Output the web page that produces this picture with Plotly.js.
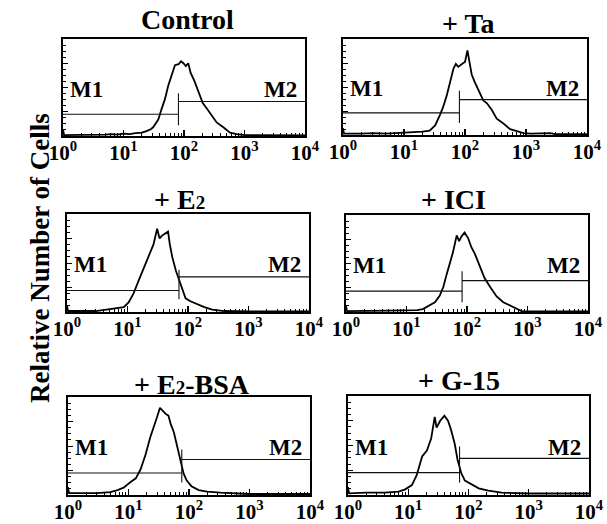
<!DOCTYPE html>
<html>
<head>
<meta charset="utf-8">
<script src="https://cdn.plot.ly/plotly-3.0.1.min.js"></script>
<style>html,body{margin:0;padding:0;background:#fff;}#chart{width:607px;height:524px;}</style>
</head>
<body>
<div id="chart"></div>
<script>
// ---- Data ----
const panelTitles = ['Control', '+ Ta', '+ E<span style="font-size:19px">2</span>', '+ ICI', '+ E<span style="font-size:19px">2</span>-BSA', '+ G-15'];
const tickValues = [1, 10, 100, 1000, 10000];
const tickLabels = ['10<sup>0</sup>', '10<sup>1</sup>', '10<sup>2</sup>', '10<sup>3</sup>', '10<sup>4</sup>'];

// fluorescence intensity (x) and relative number of cells (y, % of axis)
const controlX = [1, 1.04, 2.0, 3.16, 5.0, 6.3, 7.9, 10, 12.6, 15.8, 20, 24, 28.2, 30.9, 34.7, 37.6, 42.7, 48.4, 55.0, 63.1, 70.8, 81.3, 89.1, 97.7, 107.2, 117.5, 128.8, 147.9, 173.8, 204.2, 239.9, 288.4, 346.7, 446.7, 575.4, 741.3, 1000, 1995, 3981, 10000];
const controlY = [7, 1, 1.2, 1, 1.5, 2, 1.5, 2.5, 2, 3, 3.5, 5, 7, 9, 13, 17, 28, 38, 52, 64, 73, 74, 77, 75, 72, 75, 65, 57, 45, 34, 28, 21, 14, 9, 3.5, 2, 1, 0.8, 0.5, 0.5];

const taX = [1, 1.04, 2.0, 3.2, 5.0, 7.9, 10, 15.8, 20, 26.3, 32.4, 38.9, 43.7, 50.1, 56.2, 64.6, 70.8, 77.6, 89.1, 100, 109.6, 117.5, 128.8, 144.5, 173.8, 199.5, 229.1, 275.4, 331.1, 426.6, 549.5, 707.9, 912, 1200, 2512, 3000, 10000];
const taY = [7, 1.5, 1.5, 2, 1.5, 2, 2, 2.5, 3.5, 4.5, 10, 21, 29, 41, 55, 69, 74, 71, 74, 76, 88, 75, 63, 55, 43, 36, 33, 26, 17, 12, 6, 4, 2, 1.5, 2, 1, 1];

const e2X = [1, 1.04, 3.0, 5.2, 6.8, 8.7, 10.5, 12.6, 15.5, 18.6, 22.4, 26.9, 30.9, 33.9, 37.2, 42.7, 46.8, 50.1, 55.0, 63.1, 70.8, 81.3, 91.2, 109.6, 141.3, 186.2, 251.2, 398.1, 1000, 10000];
const e2Y = [6, 1, 1, 3, 4, 5, 10, 19, 33, 45, 57, 69, 85, 75, 78, 80, 82, 69, 56, 42, 33, 23, 14, 11, 8, 5, 2.5, 1, 0.7, 0.7];

const iciX = [1, 1.04, 5, 10, 15, 18.6, 24.5, 29.5, 35.5, 40.7, 45.7, 52.5, 58.9, 67.6, 74.1, 81.3, 91.2, 104.7, 117.5, 134.9, 162.2, 195.0, 239.9, 309.0, 398.1, 512.9, 660.7, 794.3, 10000];
const iciY = [6, 1, 1.5, 2, 2, 3, 7, 10, 17, 26, 38, 52, 62, 79, 73, 78, 82, 76, 67, 60, 47, 35, 26, 16, 10, 7, 3.5, 1, 0.7];

const e2bsaX = [1, 1.04, 3, 5, 6.6, 8.3, 10.7, 13.2, 15.8, 19.1, 22.9, 26.9, 29.5, 33.1, 37.2, 40.7, 45.7, 50.1, 56.2, 63.1, 72.4, 81.3, 91.2, 109.6, 144.5, 199.5, 331.1, 1000, 10000];
const e2bsaY = [8, 2, 2, 3, 5, 7.5, 13, 17, 26, 41, 59, 71, 79, 89, 85, 83, 81, 72, 64, 50, 36, 22, 15, 9, 5, 3.5, 2.4, 1, 1];

const g15X = [1, 1.04, 2, 4, 6.9, 8.9, 11.5, 13.8, 17.0, 20.4, 24.0, 27.5, 29.5, 33.9, 39.8, 45.7, 51.3, 58.9, 66.1, 75.9, 87.1, 114.8, 147.9, 213.8, 354.8, 1000, 10000];
const g15Y = [8, 1.7, 2.4, 2.4, 3.4, 5.7, 10, 20, 39, 45, 57, 79, 68, 75, 80, 75, 66, 52, 35, 22, 14.5, 10, 6.7, 4.4, 2.4, 1.5, 1.5];

// gate markers M1 / M2: boundary intensity, levels and vertical bar extent
const gateBoundary = [81, 81, 71, 83, 76, 71];
const m1Level = [22.4, 23, 21.9, 21.5, 22.4, 22.6];
const m2Level = [35.5, 36.8, 35.8, 32.3, 36.2, 37];
const barLow = [11, 12.5, 13, 10, 12.8, 12.5];
const barHigh = [44, 46, 43, 42, 46.5, 49];

const seriesX = [controlX, taX, e2X, iciX, e2bsaX, g15X];
const seriesY = [controlY, taY, e2Y, iciY, e2bsaY, g15Y];

// ---- Layout geometry (pixels) ----
const W = 607, H = 524;
const boxes = [ // [left, right, top, bottom]
  [63, 305, 39, 136], [343, 587, 39, 135],
  [67, 309, 214, 312], [346, 588, 215, 312],
  [68, 310, 397, 495], [348, 589, 396, 495]
];
const titlePos = [[187, 20], [468, 24], [179, 199], [453, 200], [192, 384], [459, 380]];

const FONT = 'Liberation Serif, Times New Roman, serif';
const minorVals = [];
for (let k = 0; k < 4; k++) for (let m = 2; m <= 9; m++) minorVals.push(m * Math.pow(10, k));

const traces = [];
const layout = {
  width: W, height: H,
  margin: {l: 0, r: 0, t: 0, b: 0},
  paper_bgcolor: '#fff', plot_bgcolor: '#fff',
  showlegend: false,
  font: {family: FONT, color: '#000'},
  annotations: []
};

for (let i = 0; i < 6; i++) {
  const sfx = i === 0 ? '' : String(i + 1);
  const xa = 'x' + sfx, ya = 'y' + sfx;
  const [l, r, t, b] = boxes[i];
  layout['xaxis' + sfx] = {
    type: 'log', range: [0, 4], domain: [l / W, r / W], anchor: ya,
    showline: true, linewidth: 1.6, linecolor: '#000', mirror: true,
    showgrid: false, zeroline: false,
    ticks: 'inside', ticklen: 6, tickwidth: 1.2, tickcolor: '#000',
    tickmode: 'array', tickvals: tickValues, ticktext: tickLabels,
    tickfont: {family: FONT, size: 21, weight: 'bold', color: '#000'},
    ticklabelstandoff: -3,
    minor: {tickmode: 'array', tickvals: minorVals, ticks: 'inside', ticklen: 3, tickwidth: 1, tickcolor: '#000', showgrid: false},
    fixedrange: true
  };
  layout['yaxis' + sfx] = {
    range: [0, 100], domain: [1 - b / H, 1 - t / H], anchor: xa,
    showline: true, linewidth: 1.6, linecolor: '#000', mirror: true,
    showgrid: false, zeroline: false, showticklabels: false,
    ticks: 'inside', ticklen: 5, tickwidth: 1, tickcolor: '#000',
    tickmode: 'linear', tick0: 0, dtick: 25,
    minor: {ticks: 'inside', ticklen: 3, tickwidth: 1, tickcolor: '#000', dtick: 6.25, showgrid: false},
    fixedrange: true
  };
  // histogram
  traces.push({
    x: seriesX[i], y: seriesY[i], xaxis: xa, yaxis: ya,
    type: 'scatter', mode: 'lines', line: {color: '#000', width: 1.8},
    hoverinfo: 'skip'
  });
  // M1 gate
  traces.push({
    x: [1, gateBoundary[i]], y: [m1Level[i], m1Level[i]], xaxis: xa, yaxis: ya,
    type: 'scatter', mode: 'lines', line: {color: '#111', width: 1.1}, hoverinfo: 'skip'
  });
  // M2 gate
  traces.push({
    x: [gateBoundary[i], 10000], y: [m2Level[i], m2Level[i]], xaxis: xa, yaxis: ya,
    type: 'scatter', mode: 'lines', line: {color: '#111', width: 1.1}, hoverinfo: 'skip'
  });
  // boundary bar
  traces.push({
    x: [gateBoundary[i], gateBoundary[i]], y: [barLow[i], barHigh[i]], xaxis: xa, yaxis: ya,
    type: 'scatter', mode: 'lines', line: {color: '#111', width: 1.1}, hoverinfo: 'skip'
  });
  // labels M1 / M2
  layout.annotations.push({
    text: 'M1', xref: xa + ' domain', yref: ya + ' domain', x: 0.02, y: 0.48,
    xanchor: 'left', yanchor: 'middle', showarrow: false,
    font: {family: FONT, size: 23, weight: 'bold', color: '#000'}
  });
  layout.annotations.push({
    text: 'M2', xref: xa + ' domain', yref: ya + ' domain', x: 0.975, y: 0.48,
    xanchor: 'right', yanchor: 'middle', showarrow: false,
    font: {family: FONT, size: 23, weight: 'bold', color: '#000'}
  });
  // panel title
  layout.annotations.push({
    text: panelTitles[i], xref: 'paper', yref: 'paper',
    x: titlePos[i][0] / W, y: 1 - titlePos[i][1] / H,
    xanchor: 'center', yanchor: 'middle', showarrow: false,
    font: {family: FONT, size: 28, weight: 'bold', color: '#000'}
  });
}

// shared y-axis title
layout.annotations.push({
  text: 'Relative Number of Cells', xref: 'paper', yref: 'paper',
  x: 40 / W, y: 1 - 258 / H, xanchor: 'center', yanchor: 'middle',
  textangle: -90, showarrow: false,
  font: {family: FONT, size: 27, weight: 'bold', color: '#000'}
});

Plotly.newPlot('chart', traces, layout, {staticPlot: true, displayModeBar: false});
</script>
</body>
</html>
